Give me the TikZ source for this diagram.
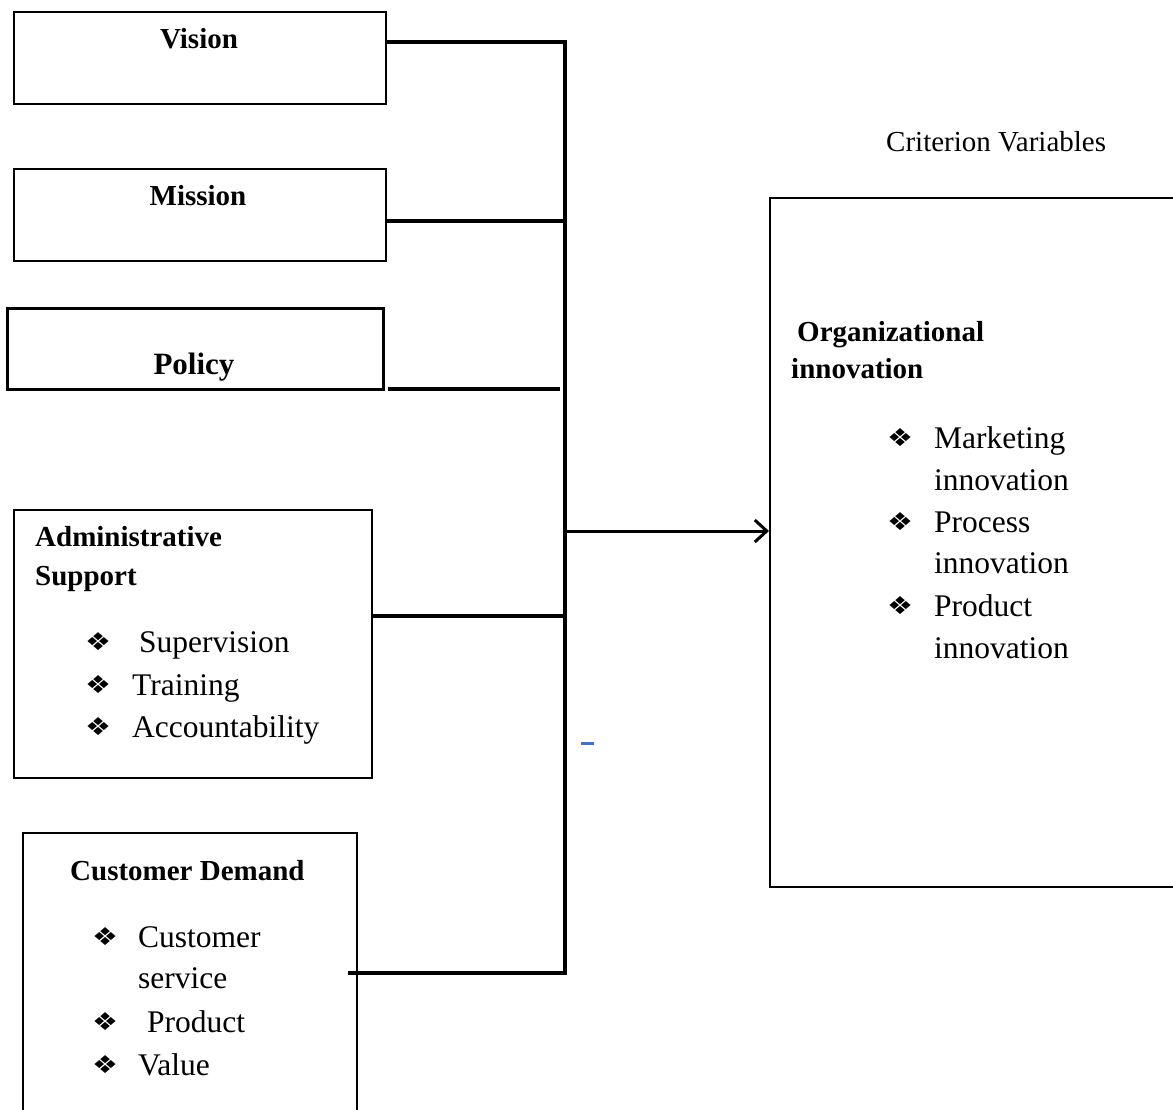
\documentclass[tikz,border=0pt]{standalone}
\usepackage{fontspec}
\setmainfont{Liberation Serif}
\newfontfamily\symfont{DejaVu Sans}
\usetikzlibrary{arrows.meta}
\definecolor{wordblue}{RGB}{68,114,196}
\tikzset{
  boxshape/.style={draw=black, line width=2pt, inner sep=0pt, anchor=north west},
  conn/.style={line width=4.5pt, line cap=rect},
  lbl/.style={inner sep=0pt, anchor=base west, font=\fontsize{29}{34}\selectfont\bfseries},
  body/.style={inner sep=0pt, anchor=base west, font=\fontsize{31.5}{36}\selectfont},
  bul/.style={inner sep=0pt, anchor=base west, font=\symfont\fontsize{29}{30}\selectfont, yscale=0.85},
}
\begin{document}
\begin{tikzpicture}[x=1pt,y=-1pt]
\useasboundingbox (0,0) rectangle (1173,1109);
% boxes
\node[boxshape, minimum width=372pt, minimum height=92pt] (vision) at (13,11) {};
\node[boxshape, minimum width=372pt, minimum height=92pt] (mission) at (13,168) {};
\node[boxshape, line width=2.6pt, minimum width=376pt, minimum height=81pt] (policy) at (6,307) {};
\node[boxshape, minimum width=358pt, minimum height=268pt] (admin) at (13,509) {};
\node[boxshape, minimum width=334pt, minimum height=300pt] (cust) at (22,832) {};
\node[boxshape, minimum width=430pt, minimum height=689pt] (org) at (769,197) {};
% box texts
\node[lbl, anchor=base] (tvision) at (199,48) {Vision};
\node[lbl, anchor=base] (tmission) at (198,205) {Mission};
\node[lbl, anchor=base, font=\fontsize{31}{36}\selectfont\bfseries] (tpolicy) at (194,374) {Policy};
\node[lbl] (tadm1) at (35,546) {Administrative};
\node[lbl] (tadm2) at (35,585) {Support};
\node[bul] (ba1) at (85,650) {❖};
\node[body] (ta1) at (139,652) {Supervision};
\node[bul] (ba2) at (85,693) {❖};
\node[body] (ta2) at (132,695) {Training};
\node[bul] (ba3) at (85,735) {❖};
\node[body] (ta3) at (132,737) {Accountability};
\node[lbl] (tcust) at (70,880) {Customer Demand};
\node[bul] (bc1) at (92,945) {❖};
\node[body] (tc1) at (138,947) {Customer};
\node[body] (tc2) at (138,988) {service};
\node[bul] (bc3) at (92,1030) {❖};
\node[body] (tc3) at (147,1032) {Product};
\node[bul] (bc4) at (92,1073) {❖};
\node[body] (tc4) at (138,1075) {Value};
\node[body, font=\fontsize{29}{34}\selectfont] (tcrit) at (886,151) {Criterion Variables};
\node[lbl] (torg1) at (797,341) {Organizational};
\node[lbl] (torg2) at (791,378) {innovation};
\node[bul] (bo1) at (887,446) {❖};
\node[body] (to1) at (934,448) {Marketing};
\node[body] (to2) at (934,490) {innovation};
\node[bul] (bo3) at (887,530) {❖};
\node[body] (to3) at (934,532) {Process};
\node[body] (to4) at (934,573) {innovation};
\node[bul] (bo5) at (887,614) {❖};
\node[body] (to5) at (934,616) {Product};
\node[body] (to6) at (934,658) {innovation};
% bus coordinates
\coordinate (bv) at (565,42);
\coordinate (bm) at (565,221);
\coordinate (bp) at (560,389);
\coordinate (bo) at (565,531);
\coordinate (ba) at (565,616);
\coordinate (bc) at (565,973);
\coordinate (ce) at (350,973);
% connectors
\draw[conn] (vision.east |- bv) -- (bv) -- (bc);
\draw[conn] (mission.east |- bm) -- (bm);
\draw[conn, line cap=butt] (policy.east |- bp) ++(3,0) -- (bp);
\draw[conn] (admin.east |- ba) -- (ba);
\draw[conn] (ce) -- (bc);
\draw[line width=3pt, -{Straight Barb[length=12pt,width=22pt,line width=3pt]}] (bo) -- (org.west |- bo);
% small blue dash
\draw[wordblue, line width=3pt] (581,743) -- (594,743);
\end{tikzpicture}
\end{document}
